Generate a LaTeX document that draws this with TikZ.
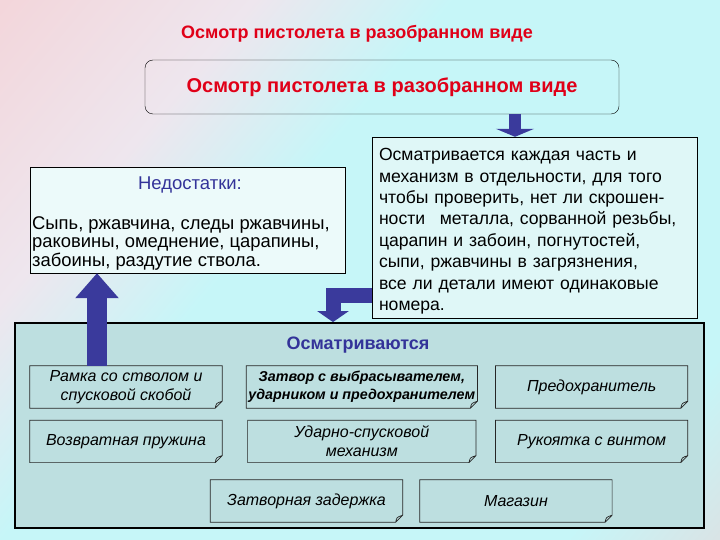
\documentclass[tikz,border=0pt]{standalone}
\usepackage{fontspec}
\setmainfont{Liberation Sans}
\usetikzlibrary{arrows.meta,positioning}
\definecolor{titlered}{HTML}{E00018}
\definecolor{navy}{HTML}{333399}
\definecolor{arrowblue}{HTML}{3A3A9C}
\definecolor{bgpink}{HTML}{F8C6C8}
\definecolor{bgpale}{HTML}{EEE6EE}
\definecolor{bgcyan}{HTML}{C6F6F8}
\definecolor{panelfill}{HTML}{BDDFE0}
\definecolor{notefill}{HTML}{DFF7F7}
\pgfdeclarehorizontalshading{bgshade}{100bp}{color(0bp)=(bgpink); color(30bp)=(bgpale); color(42bp)=(bgcyan); color(76bp)=(bgcyan); color(100bp)=(bgpink)}
\tikzset{textbox/.style={draw,fill=notefill,inner sep=0pt},blockarrow/.style={draw=arrowblue,line join=miter},notefold/.style={draw=black!85,line width=0.7pt},part/.style={minimum width=192pt,minimum height=42pt,inner sep=2pt,align=center,font=\fontsize{16}{19}\selectfont\itshape,append after command={\pgfextra{\draw[notefold] (\tikzlastnode.north west) -- (\tikzlastnode.north east) -- ([yshift=7pt]\tikzlastnode.south east) -- ([xshift=-7pt]\tikzlastnode.south east) -- (\tikzlastnode.south west) -- cycle ([xshift=-7pt]\tikzlastnode.south east) .. controls ([xshift=-6pt,yshift=5pt]\tikzlastnode.south east) .. ([yshift=7pt]\tikzlastnode.south east);}}},small/.style={font=\fontsize{17.6}{21.4}\selectfont}}

\begin{document}
\begin{tikzpicture}[x=1pt,y=-1pt]
\shade[shading=bgshade,shading angle=-40] (0,0) rectangle (720,540);
\useasboundingbox (0,0) rectangle (720,540);
\node[font=\fontsize{18}{20}\selectfont\bfseries,text=titlered] (title) at (357,34) {Осмотр пистолета в разобранном виде};
\node[draw,rounded corners=8pt,minimum width=474pt,minimum height=54pt,font=\fontsize{20}{22}\selectfont\bfseries,text=titlered] (topic) at (382,87) {Осмотр пистолета в разобранном виде};
% boxes with remarks
\node[textbox,minimum width=325pt,minimum height=181pt,inner xsep=7pt,text width=311pt,align=left,small] (check) at (534.5,227.5) {\rule{0pt}{20pt}Осматривается каждая часть и\\механизм в отдельности, для того\\чтобы проверить, нет ли скрошен-\\ности\hspace{0.5em} металла, сорванной резьбы,\\царапин и забоин, погнутостей,\\сыпи, ржавчины в загрязнения,\\все ли детали имеют одинаковые\\номера.};
\node[textbox,fill=notefill!60!white,minimum width=315pt,minimum height=106pt] (defects) at (187.5,220) {};
\node[text=navy,font=\fontsize{18.5}{20}\selectfont] (defectshead) at (190,185) {Недостатки:};
\node[anchor=north west,inner sep=0pt,align=left,font=\fontsize{18.4}{18.5}\selectfont] (defectstext) at (32,216) {Сыпь, ржавчина, следы ржавчины,\\раковины, омеднение, царапины,\\забоины, раздутие ствола.};
% parts panel
\node[draw,line width=1.8pt,fill=panelfill,minimum width=689pt,minimum height=205pt] (parts) at (359.5,425.5) {};
\node[text=navy,font=\fontsize{18}{20}\selectfont\bfseries] (partshead) at (358,345) {Осматриваются};
\node[part] (frame) at (126,387) {Рамка со стволом и\\спусковой скобой};
\node[part,minimum width=228pt,right=24pt of frame,font=\fontsize{14.3}{18}\selectfont\bfseries\itshape] (bolt) {Затвор с выбрасывателем,\\ударником и предохранителем};
\node[part,right=18pt of bolt] (safety) {Предохранитель};
\node[part,below=12pt of frame] (spring) {Возвратная пружина};
\node[part,minimum width=228pt,below=12pt of bolt] (trigger) {Ударно-спусковой\\механизм};
\node[part,below=12pt of safety] (grip) {Рукоятка с винтом};
\node[part] (catch) at (306.5,501) {Затворная задержка};
\node[part,right=17pt of catch] (magazine) {Магазин};
% block arrows
\coordinate (downx) at (515,0);
\coordinate (upx) at (97,0);
\coordinate (bendx) at (333,0);
\coordinate (bendy) at (0,295);
\draw[blockarrow,line width=12pt,-{Triangle[width=38pt,length=8pt,fill=arrowblue]}] (topic.south -| downx) -- (check.north -| downx);
\draw[blockarrow,line width=20pt,-{Triangle[width=42pt,length=25pt,fill=arrowblue]}] (frame.north -| upx) -- (defects.south -| upx);
\draw[blockarrow,line width=15pt,-{Triangle[width=31pt,length=11pt,fill=arrowblue]}] (check.west |- bendy) -| (parts.north -| bendx);
\end{tikzpicture}
\end{document}
